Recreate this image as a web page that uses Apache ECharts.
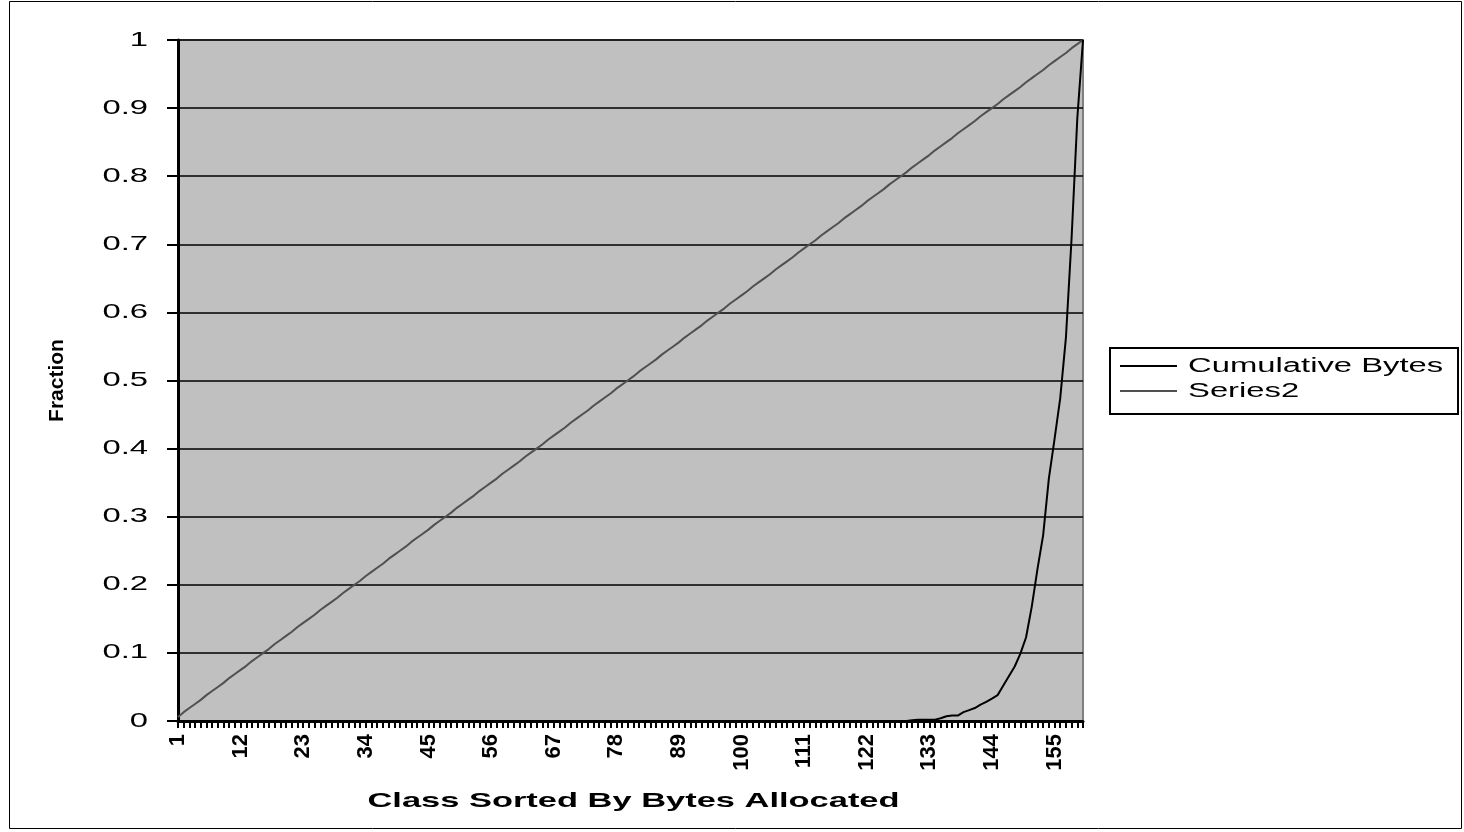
<!DOCTYPE html>
<html>
<head>
<meta charset="utf-8">
<script src="https://cdn.jsdelivr.net/npm/echarts@6/dist/echarts.min.js"></script>
<style>
  html, body { margin: 0; padding: 0; background: #ffffff; }
  #chart { width: 1464px; height: 832px; }
</style>
</head>
<body>
<div id="chart"></div>
<script>
// Class index along the x axis (classes sorted by bytes allocated)
const categories = [
  1,2,3,4,5,6,7,8,9,10,11,12,13,14,15,16,17,18,19,20,
  21,22,23,24,25,26,27,28,29,30,31,32,33,34,35,36,37,38,39,40,
  41,42,43,44,45,46,47,48,49,50,51,52,53,54,55,56,57,58,59,60,
  61,62,63,64,65,66,67,68,69,70,71,72,73,74,75,76,77,78,79,80,
  81,82,83,84,85,86,87,88,89,90,91,92,93,94,95,96,97,98,99,100,
  101,102,103,104,105,106,107,108,109,110,111,112,113,114,115,116,117,118,119,120,
  121,122,123,124,125,126,127,128,129,130,131,132,133,134,135,136,137,138,139,140,
  141,142,143,144,145,146,147,148,149,150,151,152,153,154,155,156,157,158,159,160
].map(String);

// Cumulative fraction of bytes allocated
const cumulativeBytes = [
  0,0,0,0,0,0,0,0,0,0,0,0,0,0,0,0,0,0,0,0,
  0,0,0,0,0,0,0,0,0,0,0,0,0,0,0,0,0,0,0,0,
  0,0,0,0,0,0,0,0,0,0,0,0,0,0,0,0,0,0,0,0,
  0,0,0,0,0,0,0,0,0,0,0,0,0,0,0,0,0,0,0,0,
  0,0,0,0,0,0,0,0,0,0,0,0,0,0,0,0,0,0,0,0,
  0,0,0,0,0,0,0,0,0,0,0,0,0,0,0,0,0,0,0,0,
  0,0,0,0,0,0,0,0,0,0.001,0.002,0.002,0.002,0.002,0.004,0.007,0.008,0.008,0.013,0.016,
  0.019,0.024,0.028,0.033,0.038,0.052,0.066,0.08,0.099,0.123,0.168,0.223,0.273,0.356,0.414,0.474,0.563,0.71,0.885,1
];

// Cumulative fraction of classes
const series2 = [
  0.006,0.013,0.019,0.025,0.031,0.038,0.044,0.05,
  0.056,0.063,0.069,0.075,0.081,0.088,0.094,0.1,
  0.106,0.113,0.119,0.125,0.131,0.138,0.144,0.15,
  0.156,0.163,0.169,0.175,0.181,0.188,0.194,0.2,
  0.206,0.213,0.219,0.225,0.231,0.238,0.244,0.25,
  0.256,0.263,0.269,0.275,0.281,0.288,0.294,0.3,
  0.306,0.313,0.319,0.325,0.331,0.338,0.344,0.35,
  0.356,0.363,0.369,0.375,0.381,0.388,0.394,0.4,
  0.406,0.413,0.419,0.425,0.431,0.438,0.444,0.45,
  0.456,0.463,0.469,0.475,0.481,0.488,0.494,0.5,
  0.506,0.513,0.519,0.525,0.531,0.538,0.544,0.55,
  0.556,0.563,0.569,0.575,0.581,0.588,0.594,0.6,
  0.606,0.613,0.619,0.625,0.631,0.638,0.644,0.65,
  0.656,0.663,0.669,0.675,0.681,0.688,0.694,0.7,
  0.706,0.713,0.719,0.725,0.731,0.738,0.744,0.75,
  0.756,0.763,0.769,0.775,0.781,0.788,0.794,0.8,
  0.806,0.813,0.819,0.825,0.831,0.838,0.844,0.85,
  0.856,0.863,0.869,0.875,0.881,0.888,0.894,0.9,
  0.906,0.913,0.919,0.925,0.931,0.938,0.944,0.95,
  0.956,0.963,0.969,0.975,0.981,0.988,0.994,1
];

// Value-axis tick values and their labels
const yTickValues = [0, 0.1, 0.2, 0.3, 0.4, 0.5, 0.6, 0.7, 0.8, 0.9, 1];
const yTickLabels = ['0', '0.1', '0.2', '0.3', '0.4', '0.5', '0.6', '0.7', '0.8', '0.9', '1'];

const seriesNames = ['Cumulative Bytes', 'Series2'];
const seriesColors = ['#000000', '#505050'];
const xTitle = 'Class Sorted By Bytes Allocated';
const yTitle = 'Fraction';

const FONT = '"Liberation Sans", Arial, sans-serif';
const WIDE = 1.64;   // horizontal stretch of the upright text

const chart = echarts.init(document.getElementById('chart'), null, { renderer: 'canvas' });

chart.setOption({
  animation: false,
  backgroundColor: '#ffffff',
  grid: {
    left: 178, top: 40, width: 905, height: 681,
    show: true,
    backgroundColor: '#c0c0c0',
    borderColor: '#808080',
    borderWidth: 2
  },
  legend: { show: false, data: seriesNames },
  xAxis: {
    type: 'category',
    data: categories,
    boundaryGap: false,
    axisLine: { lineStyle: { color: '#000000', width: 3 } },
    axisTick: { show: true, interval: 0, length: 7, lineStyle: { color: '#000000', width: 2 } },
    axisLabel: {
      interval: 10,
      rotate: 90,
      margin: 13,
      fontFamily: FONT, fontSize: 22, fontWeight: 'bold', color: '#000000'
    },
    splitLine: { show: false }
  },
  yAxis: {
    type: 'value',
    min: 0, max: 1, interval: 0.1,
    name: yTitle,
    nameLocation: 'middle',
    nameGap: 110,
    nameRotate: 90,
    nameTextStyle: { fontFamily: FONT, fontSize: 21, fontWeight: 'bold', color: '#000000' },
    axisLine: { show: true, lineStyle: { color: '#000000', width: 3 } },
    axisTick: { show: true, length: 11, lineStyle: { color: '#000000', width: 2 } },
    axisLabel: { show: false },
    splitLine: { show: true, lineStyle: { color: '#000000', width: 1.5 } }
  },
  series: [
    {
      name: seriesNames[0],
      type: 'line',
      data: cumulativeBytes,
      showSymbol: false,
      symbol: 'none',
      z: 3,
      lineStyle: { color: seriesColors[0], width: 2 },
      itemStyle: { color: seriesColors[0] }
    },
    {
      name: seriesNames[1],
      type: 'line',
      data: series2,
      showSymbol: false,
      symbol: 'none',
      z: 2,
      lineStyle: { color: seriesColors[1], width: 2 },
      itemStyle: { color: seriesColors[1] }
    }
  ]
});

// Upright texts are drawn wide; place them from the axes' own scales.
const axisX = chart.convertToPixel({ xAxisIndex: 0 }, categories[0]);
const lastX = chart.convertToPixel({ xAxisIndex: 0 }, categories[categories.length - 1]);
const midX = (axisX + lastX) / 2;

const graphics = [{
  type: 'rect',
  silent: true,
  shape: { x: 9.5, y: 1.5, width: 1452, height: 827 },
  style: { fill: 'none', stroke: '#000000', lineWidth: 1 }
}];

yTickValues.forEach((v, i) => {
  graphics.push({
    type: 'text',
    silent: true,
    x: axisX - 30,
    y: chart.convertToPixel({ yAxisIndex: 0 }, v),
    scaleX: WIDE,
    style: {
      text: yTickLabels[i],
      font: '20px ' + FONT,
      fill: '#000000',
      align: 'right',
      verticalAlign: 'middle'
    }
  });
});

graphics.push({
  type: 'text',
  silent: true,
  x: midX + 3,
  y: 801,
  scaleX: WIDE,
  style: {
    text: xTitle,
    font: 'bold 21px ' + FONT,
    fill: '#000000',
    align: 'center',
    verticalAlign: 'middle'
  }
});

// Legend box
const legendItems = seriesNames.map((name, i) => ([
  {
    type: 'line',
    silent: true,
    shape: { x1: 10, y1: 18 + i * 25, x2: 67, y2: 18 + i * 25 },
    style: { stroke: seriesColors[i], lineWidth: 2 }
  },
  {
    type: 'text',
    silent: true,
    x: 78,
    y: 18 + i * 25,
    scaleX: WIDE,
    style: {
      text: name,
      font: '20px ' + FONT,
      fill: '#000000',
      align: 'left',
      verticalAlign: 'middle'
    }
  }
])).flat();

graphics.push({
  type: 'group',
  x: 1110,
  y: 348,
  children: [{
    type: 'rect',
    silent: true,
    shape: { x: 0, y: 0, width: 348, height: 66 },
    style: { fill: '#ffffff', stroke: '#000000', lineWidth: 2 }
  }].concat(legendItems)
});

chart.setOption({ graphic: graphics });
</script>
</body>
</html>
